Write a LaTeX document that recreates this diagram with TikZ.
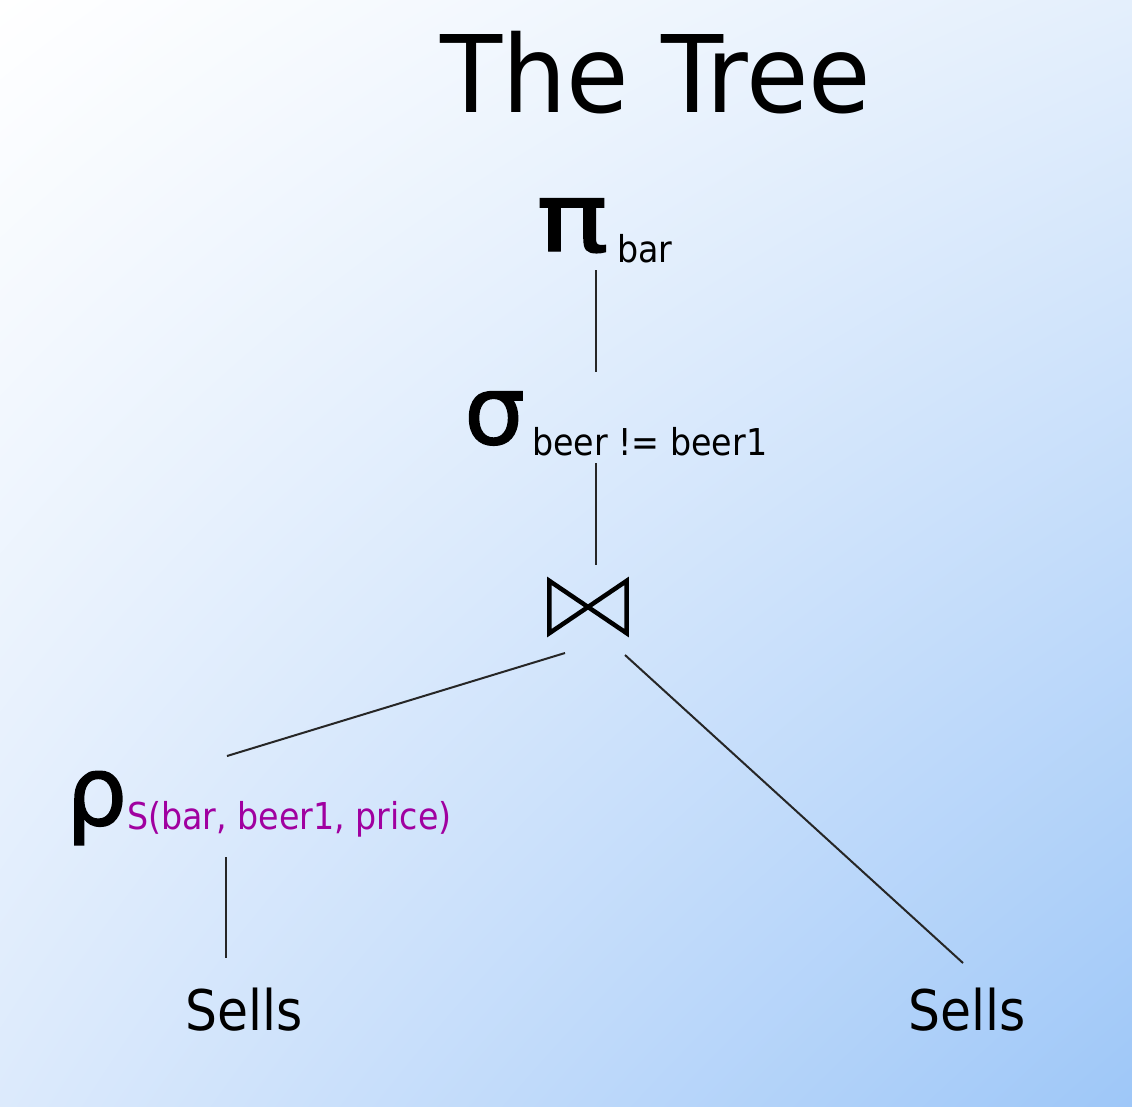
\documentclass[tikz,border=0pt]{standalone}
\usepackage{fontspec}
\usetikzlibrary{shadings}
\setmainfont{DejaVu Sans Condensed}
\newfontfamily\greekfont[FakeBold=1.5]{DejaVu Sans}
\definecolor{bgA}{RGB}{255,255,255}
\definecolor{bgB}{RGB}{228,239,252}
\definecolor{bgC}{RGB}{220,234,252}
\definecolor{bgD}{RGB}{158,199,248}
\definecolor{renamecol}{RGB}{160,0,160}
\newcommand{\fsz}[1]{\fontsize{#1}{#1}\selectfont}
\newcommand{\grk}[1]{{\greekfont\fontsize{96}{96}\selectfont #1}}
\begin{document}
\begin{tikzpicture}[x=1pt,y=-1pt,
  lbl/.style={inner sep=0pt, anchor=base west},
  edge/.style={line width=2pt, black!85}]
\shade[upper left=bgA, upper right=bgB, lower left=bgC, lower right=bgD] (0,0) rectangle (1132,1106);
\useasboundingbox (0,0) rectangle (1132,1106);

\node[lbl] (title) at (440,112) {\scalebox{1.055}[1]{\fsz{107}The Tree}};

\node[lbl] (pi) at (536,251) {\scalebox{1.25}[1]{\grk{π}}};
\node[lbl] (pisub) at (617,262) {\fsz{37}bar};

\node[lbl] (sigma) at (464,444) {\grk{σ}};
\node[lbl] (sigmasub) at (532,455) {\fsz{37}beer != beer1};

\node[inner sep=0pt, minimum width=77pt, minimum height=52pt] (join) at (588,607) {};
\draw[line width=4.5pt, line join=miter]
  (join.north west) -- (join.south east) -- (join.north east) -- (join.south west) -- cycle;

\node[lbl] (rho) at (66,825) {\grk{ρ}};
\node[lbl, text=renamecol] (rhosub) at (127,829) {\fsz{37}S(bar, beer1, price)};

\node[lbl] (sellsL) at (185,1030) {\fsz{56}Sells};
\node[lbl] (sellsR) at (908,1030) {\fsz{56}Sells};

\coordinate (piB) at (596,270);
\coordinate (sigT) at (596,372);
\coordinate (sigB) at (596,463);
\coordinate (joinT) at (596,565);
\coordinate (joinL) at (565,653);
\coordinate (joinR) at (625,655);
\coordinate (rhoT) at (227,756);
\coordinate (rhoB) at (226,857);
\coordinate (sellsLT) at (226,958);
\coordinate (sellsRT) at (963,963);

\draw[edge] (piB) -- (sigT);
\draw[edge] (sigB) -- (joinT);
\draw[edge] (joinL) -- (rhoT);
\draw[edge] (joinR) -- (sellsRT);
\draw[edge] (rhoB) -- (sellsLT);
\end{tikzpicture}
\end{document}
